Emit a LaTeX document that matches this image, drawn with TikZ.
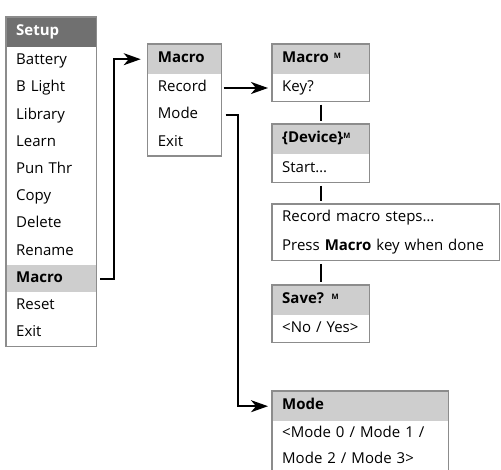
\documentclass[tikz,border=0pt]{standalone}
\usepackage{fontspec}
\setmainfont{Open Sans}
\usetikzlibrary{arrows.meta, positioning}
\definecolor{headcolor}{RGB}{112,112,112}
\definecolor{hicolor}{RGB}{206,206,206}
\definecolor{framecolor}{RGB}{140,140,140}
\newcommand{\msup}{\raisebox{0.6ex}{\fontsize{7.5}{8}\selectfont\bfseries M}}

\begin{document}
\begin{tikzpicture}[
    x=1pt, y=-1pt,
    font=\fontsize{15}{17}\selectfont,
    menurow/.style={anchor=north west, text width=#1, align=left, inner xsep=10pt, inner ysep=0pt, minimum height=26.8pt, text height=11pt, text depth=3.5pt},
    menuhead/.style={menurow=#1, minimum height=30pt, fill=hicolor, font=\fontsize{15}{17}\selectfont\bfseries},
    menuframe/.style={draw=framecolor, line width=1.1pt},
    wire/.style={line width=2pt, -{Stealth[length=17pt, width=12pt, inset=5pt]}},
    stub/.style={line width=2.2pt, shorten <=3pt, shorten >=3pt}
]
    \useasboundingbox (0,0) rectangle (501,470);
    \clip (0,0) rectangle (501,470);

    % setup menu
    \node[menuhead=70, fill=headcolor, text=white] (setup) at (6,17) {Setup};
    \node[menurow=70, below=0pt of setup] (battery) {Battery};
    \node[menurow=70, below=0pt of battery] (blight) {B Light};
    \node[menurow=70, below=0pt of blight] (library) {Library};
    \node[menurow=70, below=0pt of library] (learn) {Learn};
    \node[menurow=70, below=0pt of learn] (punthr) {Pun Thr};
    \node[menurow=70, below=0pt of punthr] (copy) {Copy};
    \node[menurow=70, below=0pt of copy] (delete) {Delete};
    \node[menurow=70, below=0pt of delete] (rename) {Rename};
    \node[menurow=70, below=0pt of rename, fill=hicolor, font=\fontsize{15}{17}\selectfont\bfseries] (smacro) {Macro};
    \node[menurow=70, below=0pt of smacro] (sreset) {Reset};
    \node[menurow=70, below=0pt of sreset] (sexit) {Exit};
    \draw[menuframe] (setup.north west) rectangle (sexit.south east);

    % macro menu
    \node[menuhead=53.5] (macro) at (147.7,44) {Macro};
    \node[menurow=53.5, below=0pt of macro] (record) {Record};
    \node[menurow=53.5, below=0pt of record] (mode) {Mode};
    \node[menurow=53.5, below=0pt of mode] (mexit) {Exit};
    \draw[menuframe] (macro.north west) rectangle (mexit.south east);

    % record steps
    \node[menuhead=77] (macrokey) at (272,44) {Macro \msup};
    \node[menurow=77, below=0pt of macrokey] (key) {Key?};
    \node[menuhead=77] (device) at (272,124) {\{Device\}\msup};
    \node[menurow=77, below=0pt of device, minimum height=28pt] (start) {Start\ldots};
    \node[menurow=207, minimum height=28pt] (steps) at (272,204) {Record macro steps\ldots};
    \node[menurow=207, minimum height=28pt, below=0pt of steps] (press) {Press \textbf{Macro} key when done};
    \node[menuhead=77] (save) at (272,285) {Save? \msup};
    \node[menurow=77, below=0pt of save] (noyes) {<No / Yes>};
    \draw[menuframe] (macrokey.north west) rectangle (key.south east);
    \draw[menuframe] (device.north west) rectangle (start.south east);
    \draw[menuframe] (steps.north west) rectangle (press.south east);
    \draw[menuframe] (save.north west) rectangle (noyes.south east);

    % mode select
    \node[menuhead=156] (modesel) at (272,391) {Mode};
    \node[menurow=156, minimum height=25pt, below=0pt of modesel] (modea) {<Mode 0 / Mode 1 /};
    \node[menurow=156, minimum height=25pt, below=0pt of modea] (modeb) {Mode 2 / Mode 3>};
    \draw[menuframe] (modesel.north west) rectangle (modeb.south east);

    % connectors
    \draw[wire, shorten <=4pt, shorten >=7pt] (smacro.east) -- ++(18,0) |- (macro.west);
    \draw[wire, shorten <=2pt, shorten >=4pt] (record.east) -- (key.west);
    \draw[wire, shorten <=4pt, shorten >=4pt] (mode.east) -- ++(16.5,0) |- (modesel.west);
    \draw[stub] (key.south) -- (device.north);
    \draw[stub] (start.south) -- (start.south |- steps.north);
    \draw[stub] (save.north |- press.south) -- (save.north);
\end{tikzpicture}
\end{document}
